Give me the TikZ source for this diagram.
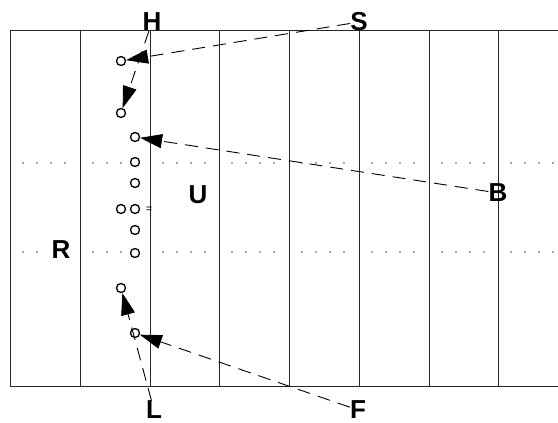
\documentclass[tikz,border=0pt]{standalone}
\usepackage{fontspec}
\setmainfont{Liberation Sans}
\usetikzlibrary{arrows.meta}
\begin{document}
\begin{tikzpicture}[x=1pt,y=-1pt,
  field/.style={line width=0.9pt, black!85},
  lbl/.style={font=\fontsize{26}{28}\selectfont\bfseries, inner sep=0pt},
  player/.style={circle, draw, line width=1.3pt, fill=white, minimum size=9pt, inner sep=0pt},
  dotmark/.style={fill=black!70},
  route/.style={line width=0.9pt, dash pattern=on 13pt off 8pt, -{Triangle[length=22pt,width=14pt]}}
]
\useasboundingbox (0,0) rectangle (558,423);
% field
\draw[field] (10,30) -- (558,30);
\draw[field] (10,386) -- (558,386);
\foreach \x in {10,80,150,219,289,359,429,498}
  \draw[field] (\x,30) -- (\x,386);
% dotted yard marks
\foreach \c in {10,80,150,219,289,359,429,498}
  \foreach \k in {0,1,2,3}
    \fill[dotmark] ({\c+13+14*\k},163) circle (0.8pt);
\foreach \c in {80,150,219,289,359,429,498}
  \foreach \k in {0,1,2,3}
    \fill[dotmark] ({\c+13+14*\k},252) circle (0.8pt);
\foreach \k in {0,1}
  \fill[dotmark] ({23+14*\k},252) circle (0.8pt);
% labels
\node[lbl] (H) at (152,22) {H};
\node[lbl] (S) at (359,22) {S};
\node[lbl] (U) at (198,195) {U};
\node[lbl] (B) at (498,193) {B};
\node[lbl] (R) at (61,250) {R};
\node[lbl] (L) at (154,410) {L};
\node[lbl] (F) at (358,410) {F};
\node[font=\fontsize{11}{12}\selectfont, inner sep=0pt] (eq) at (149,210) {=};
% players
\node[player] (c1) at (121,61) {};
\node[player] (c2) at (121,113) {};
\node[player] (c3) at (135,137) {};
\node[player] (c4) at (135,162) {};
\node[player] (c5) at (135,183) {};
\node[player] (c6) at (121,209) {};
\node[player] (c7) at (135,209) {};
\node[player] (c8) at (135,230) {};
\node[player] (c9) at (135,253) {};
\node[player] (c10) at (121,288) {};
\node[player] (c11) at (135,333) {};
% routes
\draw[route] (S) -- (c1);
\draw[route] (H) -- (c2);
\draw[route] (B) -- (c3);
\draw[route] (L) -- (c10);
\draw[route] (F) -- (c11);
\end{tikzpicture}
\end{document}
